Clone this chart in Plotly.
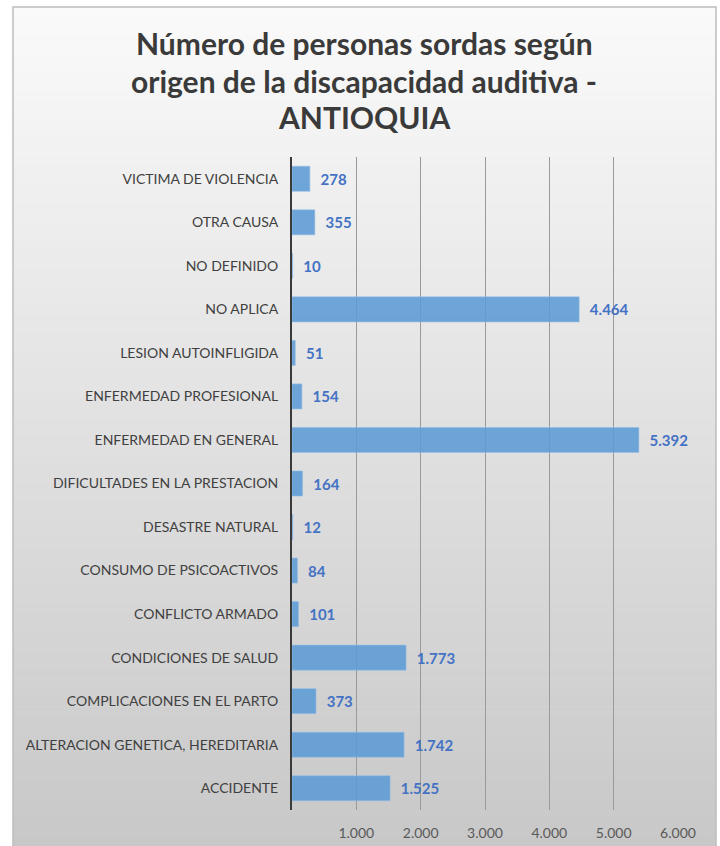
import plotly.graph_objects as go

categories = [
    "ACCIDENTE",
    "ALTERACION GENETICA, HEREDITARIA",
    "COMPLICACIONES EN EL PARTO",
    "CONDICIONES DE SALUD",
    "CONFLICTO ARMADO",
    "CONSUMO DE PSICOACTIVOS",
    "DESASTRE NATURAL",
    "DIFICULTADES EN LA PRESTACION",
    "ENFERMEDAD EN GENERAL",
    "ENFERMEDAD PROFESIONAL",
    "LESION AUTOINFLIGIDA",
    "NO APLICA",
    "NO DEFINIDO",
    "OTRA CAUSA",
    "VICTIMA DE VIOLENCIA",
]
values = [1525, 1742, 373, 1773, 101, 84, 12, 164, 5392, 154, 51, 4464, 10, 355, 278]
tick_values = [1000, 2000, 3000, 4000, 5000, 6000]

title_lines = [
    "Número de personas sordas según",
    "origen de la discapacidad auditiva -",
    "ANTIOQUIA",
]
title_line_y = [43, 81, 117]  # pixel centres of the title lines

W, H = 720, 846
L, R, T, B = 292, 42, 157, 36
pw, ph = W - L - R, H - T - B

def px_x(px):
    return (px - L) / pw

def px_y(py):
    return (H - B - py) / ph

fig = go.Figure()
fig.add_trace(go.Bar(
    y=categories,
    x=values,
    orientation="h",
    marker=dict(color="rgba(91,155,213,0.88)",
                line=dict(color="rgba(150,190,230,0.6)", width=1)),
    texttemplate="\u00a0\u00a0<b>%{x:,d}</b>",
    textposition="outside",
    constraintext="none",
    cliponaxis=False,
    textfont=dict(family="Lato", size=15, color="#4472c4"),
    hoverinfo="skip",
))

# gradient background bands inside frame
shapes = []
top, bottom = 7, 846
left, right = 13, 716
n = 90
c_top = (250, 250, 250)
c_bot = (200, 200, 200)
for i in range(n):
    y0 = top + (bottom - top) * i / n
    y1 = top + (bottom - top) * (i + 1) / n + 0.6
    t = i / (n - 1)
    c = tuple(int(round(a + (b - a) * t)) for a, b in zip(c_top, c_bot))
    shapes.append(dict(
        type="rect", xref="paper", yref="paper", layer="below",
        x0=px_x(left), x1=px_x(right), y0=px_y(y1), y1=px_y(y0),
        fillcolor="rgb(%d,%d,%d)" % c, line=dict(width=0),
    ))
shapes.append(dict(
    type="rect", xref="paper", yref="paper", layer="below",
    x0=px_x(left), x1=px_x(right), y0=px_y(bottom + 5), y1=px_y(top),
    fillcolor="rgba(0,0,0,0)", line=dict(color="#bdbdbd", width=1.5),
))

annotations = []
for line, ly in zip(title_lines, title_line_y):
    annotations.append(dict(
        text="<b>" + line + "</b>",
        xref="paper", yref="paper",
        x=px_x(364), y=px_y(ly),
        xanchor="center", yanchor="middle",
        showarrow=False,
        font=dict(family="Lato", size=30, color="#3a3a3a"),
    ))

fig.update_layout(
    width=W, height=H,
    margin=dict(l=L, r=R, t=T, b=B, autoexpand=False),
    paper_bgcolor="white",
    plot_bgcolor="rgba(0,0,0,0)",
    separators=",.",
    bargap=0.425,
    showlegend=False,
    shapes=shapes,
    annotations=annotations,
    xaxis=dict(
        range=[0, 6000],
        tickvals=tick_values,
        tickformat=",d",
        showgrid=True, gridcolor="#9a9a9a", gridwidth=1,
        zeroline=False, showline=False,
        ticks="", ticklabelstandoff=13,
        tickfont=dict(family="Lato", size=14, color="#595959"),
        fixedrange=True,
    ),
    yaxis=dict(
        type="category",
        showgrid=False, zeroline=False,
        showline=True, linecolor="#3a3a3a", linewidth=2,
        ticks="", ticklabelstandoff=9,
        tickfont=dict(family="Lato", size=14, color="#404040"),
        fixedrange=True,
    ),
)

fig.write_html(
    "out.html",
    config={"displayModeBar": False},
    post_script="document.body.style.margin='0';document.body.style.overflow='hidden';",
)
